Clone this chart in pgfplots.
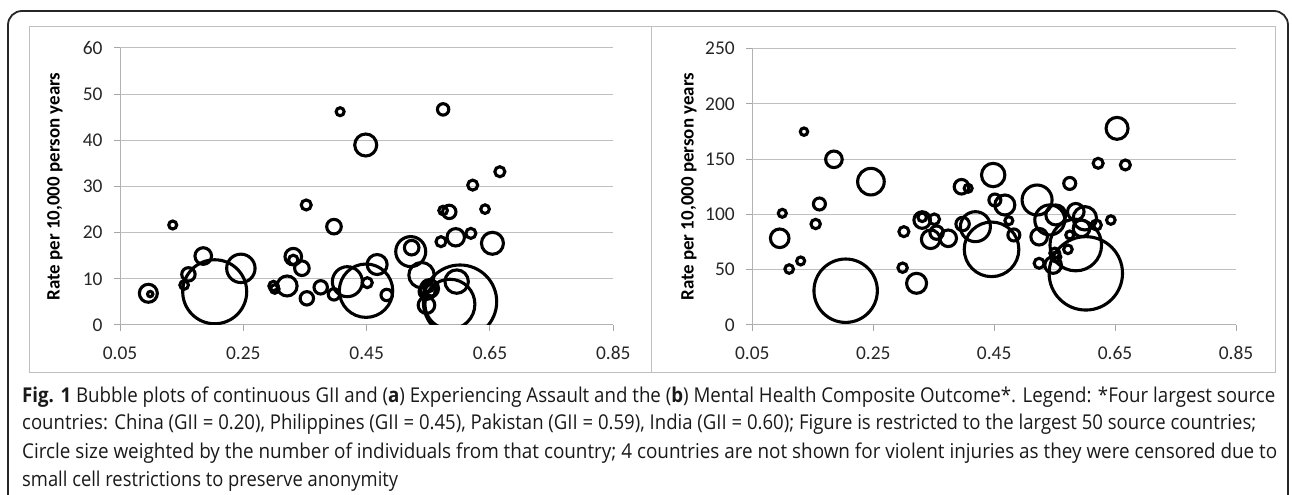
\documentclass[border=0pt]{standalone}
\usepackage{pgfplots}
\pgfplotsset{compat=1.18}
\usepackage{pgfplotstable}
\usepackage{graphicx}
\usepackage{fontspec}
\setmainfont{Carlito}
\newfontfamily\capfont[FakeStretch=0.84]{Open Sans}

\pgfplotstableread{
x y r
0.096 6.87 9
0.099 6.7 2.7
0.1355 21.66 4
0.154 8.66 4.3
0.161 10.97 6.7
0.185 14.94 8.3
0.2036 7.2 32
0.246 12.27 14.2
0.299 8.45 4.7
0.301 7.8 4.3
0.321 8.45 10
0.331 14.8 8.3
0.331 14.1 4.7
0.345 12.3 7.3
0.352 26.0 5
0.353 5.78 6.7
0.3755 8.16 6.7
0.397 21.3 7.3
0.397 6.64 5.7
0.407 46.2 4
0.4187 9.38 15
0.449 7.43 26.7
0.4485 38.99 11
0.451 9.16 5
0.467 13.1 10
0.4825 6.5 5.7
0.5215 15.9 15
0.523 16.75 7.3
0.539 10.8 12.7
0.548 7.3 8
0.552 7.9 9
0.555 7.6 6
0.550 8.2 5
0.547 4.3 8.3
0.5705 18.05 5
0.574 24.8 4.3
0.574 46.7 5.7
0.584 24.5 6.7
0.585 4.5 25
0.5945 19.0 8.7
0.596 9.4 11.7
0.6014 5.05 36.7
0.619 19.85 5
0.622 30.3 5
0.642 25.1 4.3
0.654 17.7 11
0.666 33.2 5
}\assault

\pgfplotstableread{
x y r
0.0996 101 4
0.0953 78.4 9.3
0.111 50.6 4.3
0.13 57.9 4
0.1355 174.8 3.7
0.1548 91.3 4.7
0.161 109.4 6
0.185 149.8 8.3
0.2044 31.0 31.7
0.2462 129.6 13.3
0.2986 51.8 4.7
0.3007 84.4 5
0.3217 37.7 10
0.331 94.9 8.3
0.331 97.4 4.3
0.3509 95.6 5.3
0.345 77.5 9.3
0.3548 83.5 6.7
0.374 78.4 8.3
0.396 125 7.3
0.407 123.6 4
0.3978 91.3 6.7
0.419 88.9 15
0.4457 68.4 27.3
0.4484 135.6 11.7
0.4512 113 6
0.4677 108.5 10
0.4743 94.3 4
0.4826 81.4 6
0.521 113 15
0.542 95 15
0.552 99.5 10
0.5244 79.8 8.3
0.5244 55.8 5
0.5475 54.2 8.3
0.5503 65 5
0.552 61.5 5
0.572 68.4 4.3
0.575 128 6
0.575 81.4 4
0.585 72.3 25.8
0.6016 46.7 36.7
0.585 102.4 8.3
0.600 96.5 11.7
0.5945 87.4 8.3
0.619 90.4 5
0.643 94.9 4.3
0.6533 177.8 11
0.622 146.2 5
0.667 144.7 5
}\mental

\newlength\fitw
\newcommand\fitline[2]{\settowidth\fitw{#2}\pgfmathsetmacro\fitr{#1/\fitw}\scalebox{\fitr}[1]{#2}}

\pgfplotsset{
  excel/.style={
    scale only axis, anchor=south west,
    xmin=0.05, xmax=0.85, ymin=0,
    axis x line=bottom, axis y line=left,
    axis line style={-, draw=black!30, line width=1bp},
    every outer x axis line/.append style={-},
    every outer y axis line/.append style={-},
    ymajorgrids, grid style={draw=black!25, line width=1bp},
    xtick={0.05,0.25,0.45,0.65,0.85},
    xticklabels={0.05,0.25,0.45,0.65,0.85},
    tick align=outside, major tick length=6bp,
    tick style={draw=black!35, line width=1bp},
    ticklabel style={font=\fontsize{19.5}{22}\selectfont, text=black!85},
    yticklabel style={xshift=-8bp},
    xticklabel style={yshift=-12bp},
    /pgf/number format/assume math mode=true,
    clip marker paths=true,
  },
  bub/.style={scatter, only marks, mark=o, line width=3.1bp, draw=black,
    point meta={\thisrow{r}},
    scatter/use mapped color={draw=black},
    visualization depends on={\thisrow{r}\as\rad},
    scatter/@pre marker code/.append style={/tikz/mark size=\rad bp}},
}

\begin{document}
\begin{tikzpicture}
\path[use as bounding box] (0,0) rectangle (1292bp,495bp);
\draw[black!85, line width=1.8bp, rounded corners=14bp] (8bp,-20bp) -- (8bp,484bp) -- (1288bp,484bp) -- (1288bp,-20bp);
\draw[black!25, line width=1bp] (29bp,122bp) rectangle (1275bp,468bp);
\draw[black!25, line width=1bp] (651bp,122bp) -- (651bp,468bp);

\begin{axis}[excel, at={(120bp,170bp)}, width=493.3bp, height=277bp,
  ymax=60, ytick={0,10,...,60},
  ylabel={\bfseries Rate per 10,000 person years},
  ylabel style={at={(axis description cs:-0.1318,0.5)}, anchor=center, font=\fontsize{19}{22}\selectfont}]
\addplot[bub] table[x=x, y=y] {\assault};
\end{axis}

\begin{axis}[excel, at={(752.3bp,170bp)}, width=483.7bp, height=276.5bp,
  ymax=250, ytick={0,50,...,250},
  ylabel={\bfseries Rate per 10,000 person years},
  ylabel style={at={(axis description cs:-0.1309,0.5)}, anchor=center, font=\fontsize{19}{22}\selectfont}]
\addplot[bub] table[x=x, y=y] {\mental};
\end{axis}

\begin{scope}[every node/.style={anchor=base west, inner sep=0pt, font=\capfont\fontsize{20.5}{24}\selectfont, text=black!90}]
\node at (22bp,92bp) {\fitline{1253bp}{\textbf{Fig. 1} Bubble plots of continuous GII and (\textbf{a}) Experiencing Assault and the (\textbf{b}) Mental Health Composite Outcome*. Legend: *Four largest source}};
\node at (22bp,65bp) {\fitline{1234bp}{countries: China (GII = 0.20), Philippines (GII = 0.45), Pakistan (GII = 0.59), India (GII = 0.60); Figure is restricted to the largest 50 source countries;}};
\node at (22bp,37bp) {\fitline{1255bp}{Circle size weighted by the number of individuals from that country; 4 countries are not shown for violent injuries as they were censored due to}};
\node at (22bp,9bp) {\fitline{376bp}{small cell restrictions to preserve anonymity}};
\end{scope}
\end{tikzpicture}
\end{document}
